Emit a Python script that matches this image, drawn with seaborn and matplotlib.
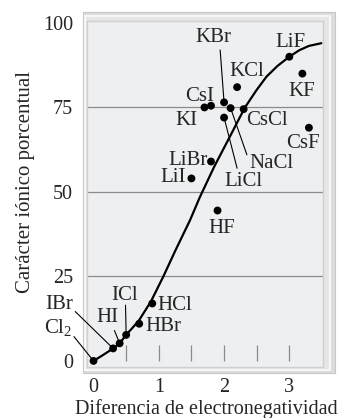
import matplotlib
matplotlib.use("Agg")
import matplotlib.pyplot as plt
import matplotlib.patches as mpatches
import pandas as pd
import seaborn as sns

# compounds
compounds = ["LiF", "KF", "KCl", "KBr", "CsI", "KI", "NaCl", "CsCl", "LiCl", "CsF",
             "LiBr", "LiI", "HF", "HCl", "HBr", "ICl", "HI", "IBr", "Cl$_2$"]
en_diff = [3.0, 3.2, 2.2, 2.0, 1.8, 1.7, 2.1, 2.3, 2.0, 3.3,
           1.8, 1.5, 1.9, 0.9, 0.7, 0.5, 0.4, 0.3, 0.0]
ionic_pct = [90, 85, 81, 76.5, 75.5, 75, 74.8, 74.5, 72, 69,
             59, 54, 44.5, 17, 11, 7.7, 5.2, 3.7, 0]

# label position for each compound, and where its leader line starts (None = no line)
label_x = [3.01, 3.19, 2.35, 1.83, 1.63, 1.43, 2.73, 2.65, 2.29, 3.21,
           1.45, 1.22, 1.96, 1.25, 1.07, 0.48, 0.21, -0.52, -0.54]
label_y = [94.2, 79.7, 85.6, 95.8, 78.2, 71.1, 58.5, 71.1, 53.0, 64.4,
           59.3, 54.2, 39.3, 16.3, 10.2, 19.5, 12.9, 16.6, 9.9]
leader_x = [None, None, None, 1.94, None, None, 2.35, None, 2.20, None,
            None, None, None, None, None, 0.49, 0.32, -0.28, -0.30]
leader_y = [None, None, None, 92.0, None, None, 61.0, None, 57.0, None,
            None, None, None, None, None, 16.5, 9.0, 14.6, 7.2]

# smooth trend curve, read point by point
curve_x = [0, 0.15, 0.3, 0.4, 0.5, 0.69, 0.88, 1.07, 1.25, 1.48, 1.63, 1.85,
           2.09, 2.32, 2.5, 2.65, 2.82, 3.0, 3.15, 3.3, 3.49]
curve_y = [0, 1.8, 3.7, 5.2, 7.7, 11.8, 17.6, 25, 32.5, 41.7, 48.5, 57.5,
           66.4, 75, 80.2, 84.1, 87.3, 90, 91.9, 93.2, 94]

y_ticks = [0, 25, 50, 75, 100]
x_ticks = [0, 1, 2, 3]
minor_x = [0.5, 1, 1.5, 2, 2.5, 3]

df = pd.DataFrame({"compound": compounds, "x": en_diff, "y": ionic_pct})
curve = pd.DataFrame({"x": curve_x, "y": curve_y})

sns.set_style("white")
plt.rcParams["font.family"] = ["Liberation Serif", "DejaVu Serif"]
plt.rcParams["mathtext.fontset"] = "custom"
plt.rcParams["mathtext.rm"] = "Liberation Serif"
plt.rcParams["mathtext.it"] = "Liberation Serif"

fig = plt.figure(figsize=(3.48, 4.18), dpi=100)

# bevelled frame behind the panel
fig.patches.append(mpatches.Rectangle((0.2385, 0.1077), 0.724, 0.8636, transform=fig.transFigure,
                                      facecolor="#dcdcdc", edgecolor="#c8c8c8", lw=0.8, zorder=-2))
fig.patches.append(mpatches.Rectangle((0.2445, 0.1145), 0.705, 0.848, transform=fig.transFigure,
                                      facecolor="#e6e6e6", edgecolor="#f8f8f8", lw=1.4, zorder=-1))

ax = fig.add_axes([0.25, 0.122, 0.678, 0.828])
ax.set_facecolor("#eeeff0")
for s in ax.spines.values():
    s.set_edgecolor("#d0d0d0")
    s.set_linewidth(1.0)

for yv in [25, 50, 75]:
    ax.axhline(yv, color="#8a8a8a", lw=0.9, zorder=1)
ax.vlines(minor_x, 0, 4.6, color="#8a8a8a", lw=0.9, zorder=1)

sns.lineplot(data=curve, x="x", y="y", sort=False, color="black", lw=1.6, ax=ax, zorder=3)
sns.scatterplot(data=df, x="x", y="y", color="black", s=32, edgecolor="none", ax=ax, zorder=4)

for i, name in enumerate(compounds):
    ax.text(label_x[i], label_y[i], name, fontsize=15, ha="center", va="center",
            clip_on=False, zorder=5)
    if leader_x[i] is not None:
        ax.plot([leader_x[i], en_diff[i]], [leader_y[i], ionic_pct[i]], color="black",
                lw=0.8, clip_on=False, zorder=3)

ax.set_xlim(-0.1, 3.515)
ax.set_ylim(-1.8, 100.6)
ax.set_xticks(x_ticks)
ax.set_yticks(y_ticks)
ax.tick_params(length=0, labelsize=14.5)
ax.tick_params(axis="y", pad=10)
ax.tick_params(axis="x", pad=8)
ax.set_xlabel("Diferencia de electronegatividad", fontsize=14.5)
ax.set_ylabel("Carácter iónico porcentual", fontsize=15)
ax.xaxis.set_label_coords(0.506, -0.093)
ax.yaxis.set_label_coords(-0.222, 0.535)

fig.savefig("out.png", dpi=100)
